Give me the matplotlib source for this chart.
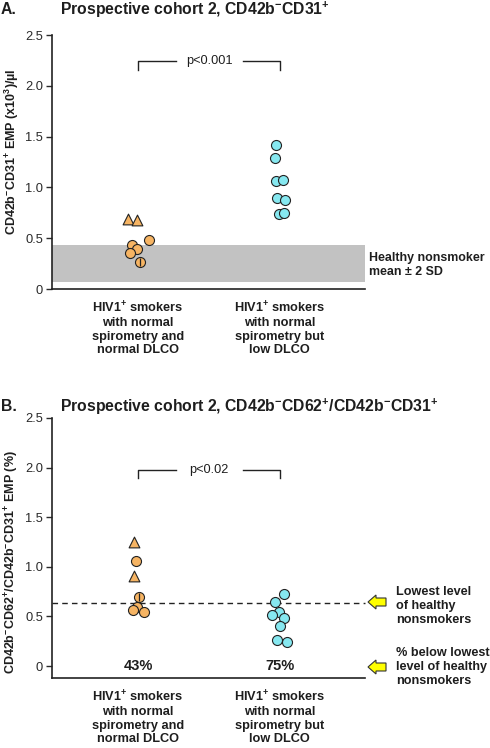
import matplotlib
matplotlib.use("Agg")
import matplotlib.pyplot as plt
from matplotlib.patches import Polygon
import numpy as np

plt.rcParams['font.family'] = ['Liberation Sans', 'DejaVu Sans']
plt.rcParams['mathtext.fontset'] = 'custom'
plt.rcParams['mathtext.rm'] = 'Liberation Sans'
plt.rcParams['mathtext.bf'] = 'Liberation Sans:bold'
plt.rcParams['mathtext.it'] = 'Liberation Sans:italic'

# ---------------- data ----------------
categories = [
    "HIV1$^{\\mathbf{+}}$ smokers\nwith normal\nspirometry and\nnormal DLCO",
    "HIV1$^{\\mathbf{+}}$ smokers\nwith normal\nspirometry but\nlow DLCO",
]
yticks = [0, 0.5, 1.0, 1.5, 2.0, 2.5]
ytick_labels = ["0", "0.5", "1.0", "1.5", "2.0", "2.5"]

# Panel A
a_tri_vals = [0.69, 0.68]
a_tri_dx = [-0.073, -0.009]
a_circ_vals = [0.48, 0.43, 0.39, 0.35, 0.27]
a_circ_dx = [0.077, -0.044, -0.005, -0.058, 0.014]
a_circ_split = [False, False, False, False, True]
a_cyan_vals = [1.42, 1.29, 1.06, 1.07, 0.90, 0.88, 0.735, 0.75]
a_cyan_dx = [-0.028, -0.035, -0.028, 0.019, -0.023, 0.035, -0.005, 0.028]
a_band = (0.07, 0.43)
a_p_text = "p<0.001"

# Panel B
b_tri_vals = [1.246, 0.905]
b_tri_dx = [-0.030, -0.028]
b_circ_vals = [1.06, 0.70, 0.60, 0.57, 0.55]
b_circ_dx = [-0.016, 0.009, -0.005, -0.033, 0.040]
b_circ_split = [False, True, False, False, False]
b_cyan_vals = [0.73, 0.65, 0.55, 0.51, 0.48, 0.40, 0.265, 0.245]
b_cyan_dx = [0.030, -0.035, -0.007, -0.054, 0.028, 0.002, -0.019, 0.049]
b_lowest = 0.64
b_percent = ["43%", "75%"]
b_p_text = "p<0.02"

ORANGE = "#F6B463"
CYAN = "#86E8F0"
EDGE = "#222222"
TXT = "#1E1E1E"

W, H = 490, 748
fig = plt.figure(figsize=(W / 100, H / 100), dpi=100)


def fx(px):
    return px / W


def fy(py):
    return 1 - py / H


axA = fig.add_axes([fx(52), fy(289), fx(365) - fx(52), fy(35) - fy(289)])
axB = fig.add_axes([fx(52), fy(678), fx(365) - fx(52), fy(418) - fy(678)])


def style_axis(ax, ybottom):
    ax.set_xlim(0.394, 2.6)
    ax.set_ylim(ybottom, 2.5)
    for s in ["top", "right"]:
        ax.spines[s].set_visible(False)
    for s in ["left", "bottom"]:
        ax.spines[s].set_linewidth(1.2)
        ax.spines[s].set_color("#222222")
    ax.set_yticks(yticks)
    ax.set_yticklabels(ytick_labels, fontsize=9.3, color="#2a2a2a")
    ax.tick_params(axis="y", length=4.5, width=1, pad=2, colors="#2a2a2a")
    ax.set_xticks([1, 2])
    ax.set_xticklabels(categories, fontsize=9.2, fontweight="bold",
                       linespacing=1.18, va="top", color=TXT)
    ax.tick_params(axis="x", length=0, pad=8)


def scatter_group(ax, x0, vals, dx, marker, color, size=52):
    xs = [x0 + d for d in dx]
    ax.scatter(xs, vals, s=size, marker=marker, facecolor=color,
               edgecolor=EDGE, linewidth=0.8, zorder=3)


def split_marks(ax, x0, vals, dx, split):
    for v, d, sp in zip(vals, dx, split):
        if sp:
            ax.scatter([x0 + d], [v], s=40, marker="|", color=EDGE,
                       linewidth=0.9, zorder=4)


def bracket(ax, y_top, leg, text, gap):
    ax.plot([1, 1, 1 + gap[0]], [y_top - leg, y_top, y_top], color="#222222", lw=1)
    ax.plot([1 + gap[1], 2, 2], [y_top, y_top, y_top - leg], color="#222222", lw=1)
    ax.text(1.5, y_top, text, ha="center", va="center", fontsize=9.2, color=TXT)


# ---------------- Panel A ----------------
style_axis(axA, 0)
axA.axhspan(a_band[0], a_band[1], color="#C2C2C2", zorder=1, lw=0)
scatter_group(axA, 1, a_tri_vals, a_tri_dx, "^", ORANGE, 60)
scatter_group(axA, 1, a_circ_vals, a_circ_dx, "o", ORANGE)
split_marks(axA, 1, a_circ_vals, a_circ_dx, a_circ_split)
scatter_group(axA, 2, a_cyan_vals, a_cyan_dx, "o", CYAN)
bracket(axA, 2.24, 0.08, a_p_text, (0.268, 0.739))

# ---------------- Panel B ----------------
style_axis(axB, -0.12)
axB.axhline(b_lowest, color="#222222", lw=1, ls=(0, (4, 3)), zorder=2, clip_on=False)
scatter_group(axB, 1, b_tri_vals, b_tri_dx, "^", ORANGE, 60)
scatter_group(axB, 1, b_circ_vals, b_circ_dx, "o", ORANGE)
split_marks(axB, 1, b_circ_vals, b_circ_dx, b_circ_split)
scatter_group(axB, 2, b_cyan_vals, b_cyan_dx, "o", CYAN)
bracket(axB, 1.98, 0.08, b_p_text, (0.268, 0.739))
for i, t in enumerate(b_percent):
    axB.text(i + 1, 0, t, ha="center", va="center", fontsize=10.5,
             fontweight="bold", color=TXT)

# ---------------- titles & labels ----------------
fig.text(fx(1), fy(10), "A.", fontsize=11.3, fontweight="bold", va="center", ha="left", color=TXT)
fig.text(fx(60), fy(10),
         "Prospective cohort 2, CD42b$^{\\mathbf{-}}$CD31$^{\\mathbf{+}}$",
         fontsize=11.3, fontweight="bold", va="center", ha="left", color=TXT)
fig.text(fx(1), fy(407), "B.", fontsize=11.3, fontweight="bold", va="center", ha="left", color=TXT)
fig.text(fx(60), fy(407),
         "Prospective cohort 2, CD42b$^{\\mathbf{-}}$CD62$^{\\mathbf{+}}$/CD42b$^{\\mathbf{-}}$CD31$^{\\mathbf{+}}$",
         fontsize=11.3, fontweight="bold", va="center", ha="left", color=TXT)

fig.text(fx(12), fy(152),
         "CD42b$^{\\mathbf{-}}$CD31$^{\\mathbf{+}}$ EMP (x10$^{\\mathbf{3}}$)/µl",
         rotation=90, fontsize=9, fontweight="bold", ha="center", va="center", color=TXT)
fig.text(fx(12), fy(562),
         "CD42b$^{\\mathbf{-}}$CD62$^{\\mathbf{+}}$/CD42b$^{\\mathbf{-}}$CD31$^{\\mathbf{+}}$ EMP (%)",
         rotation=90, fontsize=9, fontweight="bold", ha="center", va="center", color=TXT)

fig.text(fx(369), fy(265), "Healthy nonsmoker\nmean ± 2 SD", fontsize=8.9,
         fontweight="bold", ha="left", va="center", linespacing=1.25, color=TXT)
fig.text(fx(396), fy(606), "Lowest level\nof healthy\nnonsmokers", fontsize=9.1,
         fontweight="bold", ha="left", va="center", linespacing=1.2, color=TXT)
fig.text(fx(396), fy(667), "% below lowest\nlevel of healthy\nnonsmokers", fontsize=9.1,
         fontweight="bold", ha="left", va="center", linespacing=1.2, color=TXT)


def yellow_arrow(yc):
    pts = [(368, yc), (376, yc - 7), (376, yc - 4), (386, yc - 4),
           (386, yc + 4), (376, yc + 4), (376, yc + 7)]
    poly = Polygon([(fx(x), fy(y)) for x, y in pts], closed=True,
                   transform=fig.transFigure, facecolor="#FFFF00",
                   edgecolor="#333333", lw=0.8)
    fig.patches.append(poly)


yellow_arrow(602)
yellow_arrow(667)

fig.savefig("out.png", dpi=100)
